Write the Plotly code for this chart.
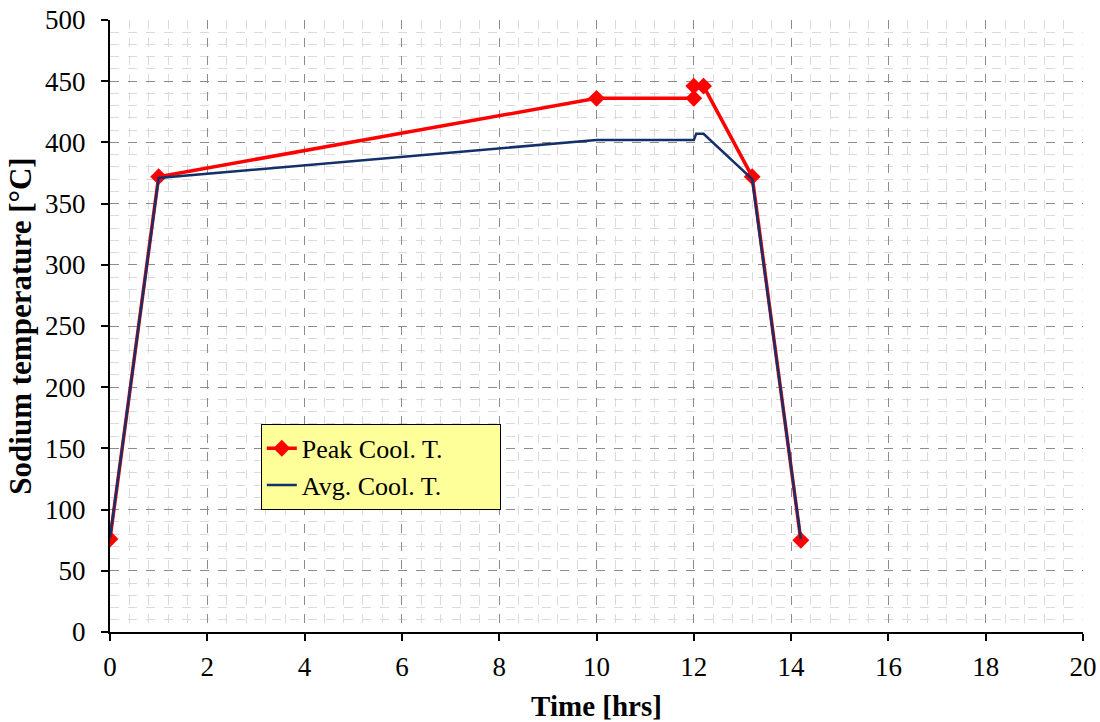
import plotly.graph_objects as go

peak_time = [0, 1, 10, 12, 12, 12.2, 13.2, 14.2]
peak_temp = [76, 372, 436, 436, 446, 446, 372, 75]
avg_time = [0, 1, 10, 12, 12.05, 12.2, 13.2, 14.2]
avg_temp = [77, 371, 402, 402, 407, 407, 370, 76]

x_ticks = list(range(0, 21, 2))
y_ticks = list(range(0, 501, 50))

fig = go.Figure()
fig.add_trace(go.Scatter(
    x=peak_time, y=peak_temp, mode="lines+markers",
    name="Peak Cool. T.&nbsp;&nbsp;&nbsp;&nbsp;&nbsp;&nbsp;&nbsp;&nbsp;",
    line=dict(color="#FF0000", width=3.5),
    marker=dict(symbol="diamond", size=13, color="#FF0000"),
))
fig.add_trace(go.Scatter(
    x=avg_time, y=avg_temp, mode="lines", name="Avg. Cool. T.",
    line=dict(color="#14306A", width=2.5),
))

ff = "'Liberation Serif', 'Times New Roman', Times, serif"
fig.update_layout(
    width=1100, height=722,
    margin=dict(l=110, r=17, t=20, b=90),
    paper_bgcolor="white", plot_bgcolor="white",
    font=dict(family=ff, size=27, color="black"),
    showlegend=True,
    legend=dict(
        x=0.155, y=0.34, xanchor="left", yanchor="top",
        bgcolor="#FFFF99", bordercolor="black", borderwidth=1,
        font=dict(family=ff, size=26, color="black"),
        tracegroupgap=0, itemwidth=30,
    ),
    xaxis=dict(
        range=[0, 20], tickvals=x_ticks, ticks="outside", ticklen=7, tickwidth=2,
        tickcolor="black", showline=True, linecolor="black", linewidth=2,
        showgrid=True, gridcolor="#8C8C8C", griddash="dash", gridwidth=1,
        zeroline=False, automargin=False, ticklabelstandoff=3,
        minor=dict(dtick=0.4, showgrid=True, gridcolor="#DADADA", griddash="dash", gridwidth=1),
        title=dict(text="<b>Time [hrs]</b>", font=dict(family=ff, size=29), standoff=16),
        tickfont=dict(family=ff, size=27),
    ),
    yaxis=dict(
        range=[0, 500], tickvals=y_ticks, ticks="outside", ticklen=7, tickwidth=2,
        tickcolor="black", showline=True, linecolor="black", linewidth=2,
        showgrid=True, gridcolor="#8C8C8C", griddash="dash", gridwidth=1,
        zeroline=False, automargin=False, ticklabelstandoff=10,
        minor=dict(dtick=10, showgrid=True, gridcolor="#DADADA", griddash="dash", gridwidth=1),
        title=dict(text="<b>Sodium temperature [°C]</b>", font=dict(family=ff, size=31), standoff=4),
        tickfont=dict(family=ff, size=27),
    ),
)

fig.write_html("out.html")
